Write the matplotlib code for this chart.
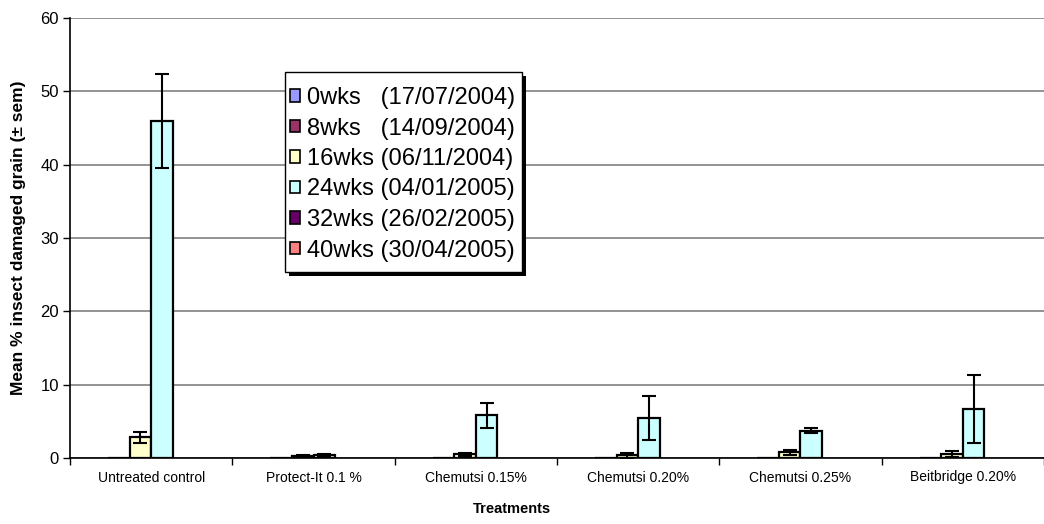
import numpy as np
import matplotlib.pyplot as plt
from matplotlib.patches import Patch, Rectangle

plt.rcParams['font.family'] = ['Liberation Sans', 'DejaVu Sans']

treatments = ['Untreated control', 'Protect-It 0.1 %', 'Chemutsi 0.15%',
              'Chemutsi 0.20%', 'Chemutsi 0.25%', 'Beitbridge 0.20%']
series = ['0wks   (17/07/2004)', '8wks   (14/09/2004)', '16wks (06/11/2004)',
          '24wks (04/01/2005)', '32wks (26/02/2005)', '40wks (30/04/2005)']
colors = ['#9999FF', '#993366', '#FFFFCC', '#CCFFFF', '#660066', '#FF8080']

nan = np.nan
means = [
    [nan, nan, nan, nan, nan, nan],        # 0wks
    [0, 0, 0, 0, 0, 0],                    # 8wks
    [2.8, 0.3, 0.5, 0.4, 0.8, 0.5],        # 16wks
    [46.0, 0.4, 5.8, 5.45, 3.75, 6.7],     # 24wks
    [nan, nan, nan, nan, nan, nan],        # 32wks
    [nan, nan, nan, nan, nan, nan],        # 40wks
]
sems = [
    [nan] * 6,
    [nan] * 6,
    [0.7, 0.1, 0.2, 0.35, 0.35, 0.4],
    [6.4, 0.1, 1.75, 3.0, 0.35, 4.6],
    [nan] * 6,
    [nan] * 6,
]

W, H = 1044, 524
fig = plt.figure(figsize=(W / 100, H / 100), dpi=100)
ax = fig.add_axes([70 / W, 66 / H, 974 / W, 440 / H])

x = np.arange(len(treatments))
w = 1 / 7.5
for i in range(len(series)):
    pos = x - 0.5 + 0.75 * w + (i + 0.5) * w
    m = np.array(means[i], dtype=float)
    e = np.array(sems[i], dtype=float)
    ax.bar(pos, m, width=w, color=colors[i], edgecolor='black', linewidth=1.6, zorder=3)
    if not np.all(np.isnan(e)):
        ax.errorbar(pos, m, yerr=e, fmt='none', ecolor='black', elinewidth=1.5,
                    capsize=5, capthick=1.5, zorder=4)

ax.set_ylim(0, 60)
ax.set_yticks(range(0, 61, 10))
ax.set_xlim(-0.5, 5.476)
ax.set_xticks(x)
ax.set_xticklabels(treatments, fontsize=10)
ax.set_xticks(np.arange(-0.5, 6, 1), minor=True)
ax.tick_params(axis='x', which='major', length=0, pad=9)
ax.tick_params(axis='x', which='minor', length=5, width=1, direction='out')
ax.tick_params(axis='y', length=5, width=1, labelsize=12, pad=3)
ax.yaxis.grid(True, color='#808080', linewidth=1.2, zorder=0)
ax.set_axisbelow(True)
for s in ['top', 'right']:
    ax.spines[s].set_visible(False)
for s in ['left', 'bottom']:
    ax.spines[s].set_linewidth(1.2)

ax.set_xlabel('Treatments', fontsize=10.5, fontweight='bold')
ax.xaxis.set_label_coords((512 - 70) / 974, -44 / 440)
ax.set_ylabel('Mean % insect damaged grain (± sem)', fontsize=12.5, fontweight='bold')
ax.yaxis.set_label_coords(-44 / 974, 0.5)


def px(xp, yp):
    # figure pixels (from top-left) -> axes fraction
    return (xp - 70) / 974, 1 - (yp - 18) / 440


# legend box with a hard drop shadow, drawn separately so the padding can differ
bx0, by0 = px(285, 272)
bx1, by1 = px(522, 72)
sx, sy = 4 / 974, 4 / 440
ax.add_patch(Rectangle((bx0 + sx, by0 - sy), bx1 - bx0, by1 - by0, transform=ax.transAxes,
                       facecolor='black', edgecolor='none', zorder=6, clip_on=False))
ax.add_patch(Rectangle((bx0, by0), bx1 - bx0, by1 - by0, transform=ax.transAxes,
                       facecolor='white', edgecolor='black', linewidth=1.0, zorder=6.5,
                       clip_on=False))

handles = [Patch(facecolor=c, edgecolor='black', linewidth=1.2) for c in colors]
leg = ax.legend(handles, series, loc='upper left', bbox_to_anchor=px(290, 87),
                fontsize=17, frameon=False, handlelength=0.42, handleheight=0.42,
                handletextpad=0.3, labelspacing=0.36, borderpad=0, borderaxespad=0)
leg.set_zorder(7)

fig.savefig('out.png', dpi=100)
